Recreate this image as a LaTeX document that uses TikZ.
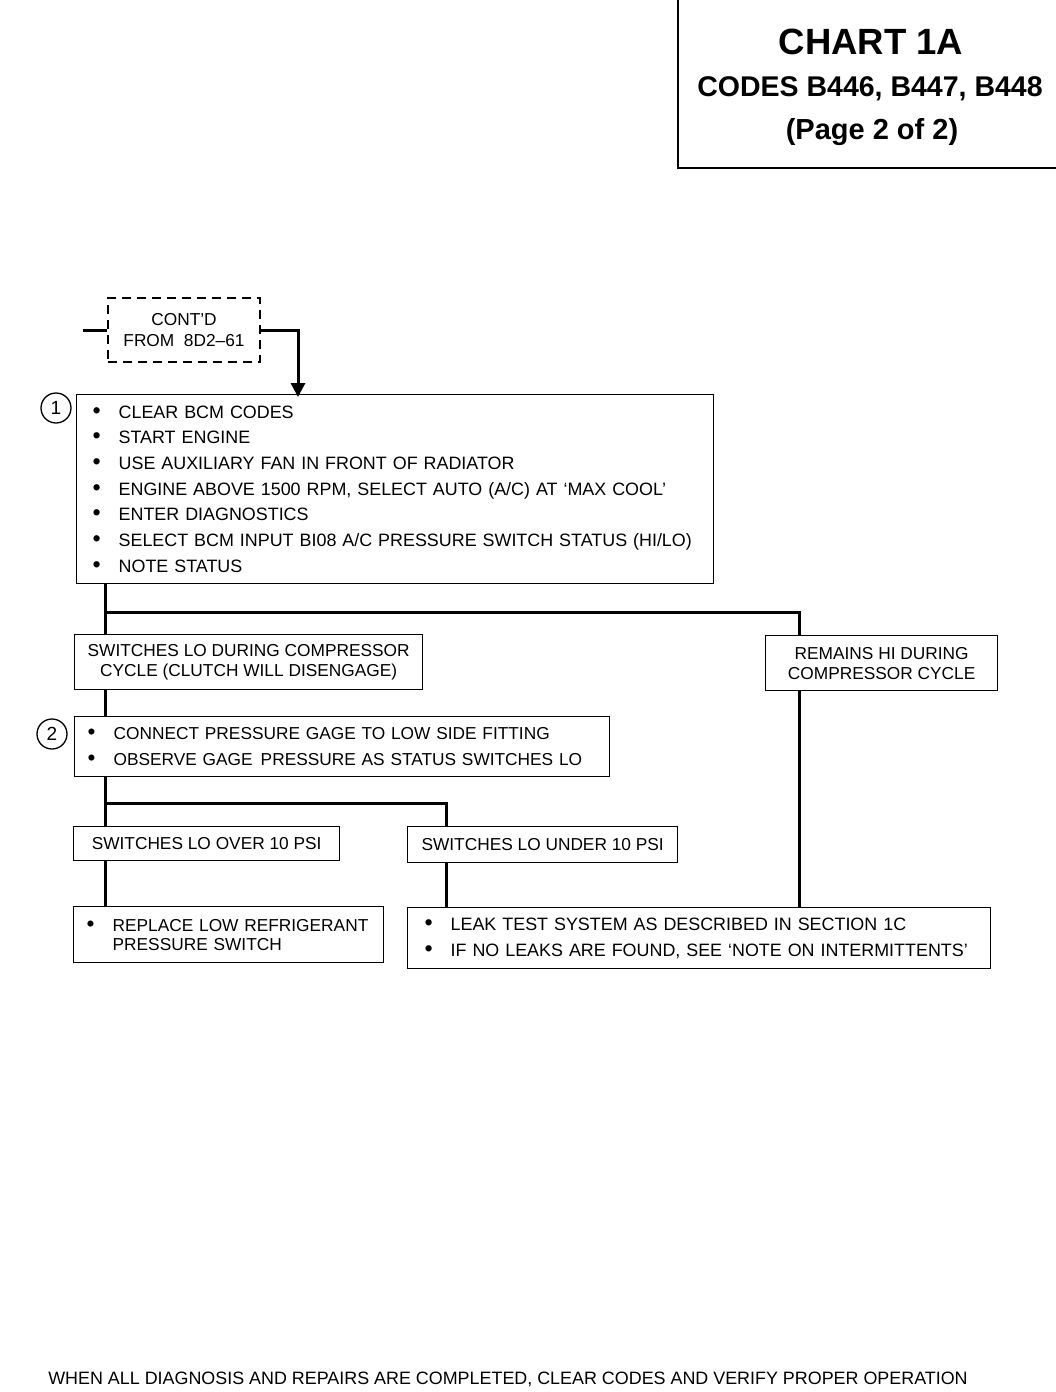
\documentclass[tikz,border=0pt]{standalone}
\usepackage{fontspec}
\setmainfont{Liberation Sans}
\usetikzlibrary{arrows.meta}
\usetikzlibrary{positioning}
\newcommand{\bul}[1]{\makebox[26pt][l]{\scalebox{1.3}{\textbullet}}\mbox{#1}}
\newcommand{\txt}[1]{\fontsize{17.9}{#1}\selectfont}
\newcommand{\sml}[1]{\fontsize{17.3}{#1}\selectfont}
\def\ClearCodes{%
\bul{CLEAR BCM CODES}\\
\bul{START ENGINE}\\
\bul{USE AUXILIARY FAN IN FRONT OF RADIATOR}\\
\bul{ENGINE ABOVE 1500 RPM, SELECT AUTO (A/C) AT `MAX COOL'}\\
\bul{ENTER DIAGNOSTICS}\\
\bul{SELECT BCM INPUT BI08 A/C PRESSURE SWITCH STATUS (HI/LO)}\\
\bul{NOTE STATUS}}
\def\ConnectGage{%
\bul{CONNECT PRESSURE GAGE TO LOW SIDE FITTING}\\
\bul{OBSERVE GAGE\hspace{8pt}PRESSURE AS STATUS SWITCHES LO}}
\def\ReplaceSwitch{%
\bul{REPLACE LOW REFRIGERANT}\\
\hspace*{26pt}\mbox{PRESSURE SWITCH}}
\def\LeakTest{%
\bul{LEAK TEST SYSTEM AS DESCRIBED IN SECTION 1C}\\
\bul{IF NO LEAKS ARE FOUND, SEE `NOTE ON INTERMITTENTS'}}

\begin{document}
\begin{tikzpicture}[x=1pt, y=-1pt,
                    flow/.style={line width=3pt},
                    listbox/.style={draw, line width=1.3pt, anchor=north west,
                                    align=left, inner ysep=0pt},
                    casebox/.style={draw, line width=1.3pt, anchor=north west,
                                    align=center, inner sep=0pt},
                    num/.style={circle, draw, line width=1.3pt, minimum size=30pt,
                                inner sep=0pt, font=\fontsize{19}{19}\selectfont}]
    \useasboundingbox (0,0) rectangle (1056,1392);

    \draw[line width=2pt] (678,0) -- (678,168) -- (1056,168);
    \node[font=\fontsize{36.5}{36.5}\selectfont\bfseries] (chart) at (871,42) {CHART 1A};
    \node[font=\fontsize{28.5}{28.5}\selectfont\bfseries] (codes) at (870,89) {CODES B446, B447, B448};
    \node[font=\fontsize{29}{29}\selectfont\bfseries] (page) at (872,132) {(Page 2 of 2)};

    \node[draw, dash pattern=on 9pt off 6pt, line width=1.3pt, minimum width=152pt,
          minimum height=64pt, align=center, inner sep=0pt, font=\sml{21}]
          (contd) at (184,330) {CONT'D\\FROM\ \ 8D2--61};
    \coordinate (stub) at (83,330);

    \node[listbox, text width=605pt, inner xsep=16pt, minimum height=189pt, font=\txt{25.67}]
          (clear) at (76,394) {\ClearCodes};
    \node[num] (n1) at (56,408) {1};

    \node[casebox, minimum width=348pt, minimum height=55pt, font=\sml{20}]
          (lo) at (74,634) {SWITCHES LO DURING COMPRESSOR\\CYCLE (CLUTCH WILL DISENGAGE)};
    \node[casebox, minimum width=232pt, minimum height=55pt, font=\sml{20}]
          (hi) at (765,635) {REMAINS HI DURING\\COMPRESSOR CYCLE};

    \node[listbox, text width=509pt, inner xsep=13pt, minimum height=60pt, font=\sml{26}]
          (gage) at (74,716) {\ConnectGage};
    \node[num] (n2) at (52,734) {2};

    \node[casebox, minimum width=266pt, minimum height=34pt, font=\sml{20}]
          (over) at (73,826) {SWITCHES LO OVER 10 PSI};
    \node[casebox, minimum width=270pt, minimum height=36pt, font=\sml{20}]
          (under) at (407,826) {SWITCHES LO UNDER 10 PSI};

    \node[listbox, text width=284pt, inner xsep=13pt, minimum height=56pt, font=\sml{19}]
          (replace) at (73,906) {\ReplaceSwitch};
    \node[listbox, text width=549pt, inner xsep=17pt, minimum height=61pt, font=\txt{26}]
          (leak) at (407,907) {\LeakTest};

    \node[font=\txt{17.9}] (final) at (508,1379)
          {WHEN ALL DIAGNOSIS AND REPAIRS ARE COMPLETED, CLEAR CODES AND VERIFY PROPER OPERATION};

    \coordinate (j1) at (105,612);
    \coordinate (j2) at (105,803);
    \draw[flow] (stub) -- (contd.west);
    \draw[flow, -{Triangle[width=14pt, length=14pt]}] (contd.east) -| ([xshift=222pt, yshift=-3pt]clear.north west);
    \draw[flow] (clear.south -| j1) -- (lo.north -| j1);
    \draw[flow] (j1) -| ([xshift=34pt]hi.north west);
    \draw[flow] ([xshift=34pt]hi.south west) -- ([xshift=34pt]hi.south west |- leak.north);
    \draw[flow] (lo.south -| j1) -- (gage.north -| j1);
    \draw[flow] (gage.south -| j2) -- (over.north -| j2);
    \draw[flow] (j2) -| ([xshift=39pt]under.north west);
    \draw[flow] (over.south -| j2) -- (replace.north -| j2);
    \draw[flow] ([xshift=39pt]under.south west) -- ([xshift=39pt]under.south west |- leak.north);
\end{tikzpicture}
\end{document}
